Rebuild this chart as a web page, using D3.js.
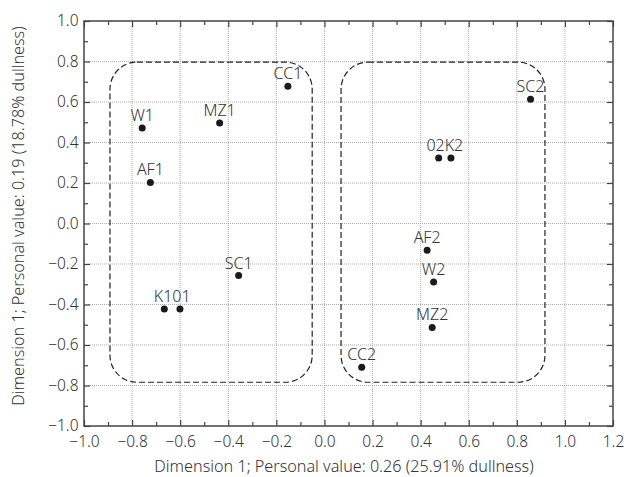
<!DOCTYPE html>
<html>
<head>
<meta charset="utf-8">
<script src="https://cdn.jsdelivr.net/npm/d3@7"></script>
<style>
  body { margin: 0; background: #fff; }
  text { font-family: "Noto Sans", sans-serif; font-weight: 300; fill: #333; }
</style>
</head>
<body>
<div id="chart"></div>
<script>
// Data
var pointNames = ["W1", "MZ1", "CC1", "AF1", "SC1", "K1", "O1", "SC2", "O2", "K2", "AF2", "W2", "MZ2", "CC2"];
var pointX = [-0.758, -0.436, -0.152, -0.724, -0.357, -0.666, -0.601, 0.857, 0.475, 0.526, 0.427, 0.454, 0.448, 0.155];
var pointY = [0.472, 0.496, 0.678, 0.203, -0.257, -0.422, -0.422, 0.613, 0.323, 0.323, -0.132, -0.289, -0.513, -0.710];

// points that share one label
var pairedLabels = [
  { members: ["K1", "O1"], text: "K101" },
  { members: ["O2", "K2"], text: "02K2" }
];

// dashed cluster outlines (data units)
var clusterX0 = [-0.892, 0.069];
var clusterX1 = [-0.051, 0.917];
var clusterY0 = [-0.784, -0.784];
var clusterY1 = [0.797, 0.797];

var xTicks = [-1.0, -0.8, -0.6, -0.4, -0.2, 0.0, 0.2, 0.4, 0.6, 0.8, 1.0, 1.2];
var yTicks = [-1.0, -0.8, -0.6, -0.4, -0.2, 0.0, 0.2, 0.4, 0.6, 0.8, 1.0];
var xMinor = [-0.9, -0.7, -0.5, -0.3, -0.1, 0.1, 0.3, 0.5, 0.7, 0.9, 1.1];
var yMinor = [-0.9, -0.7, -0.5, -0.3, -0.1, 0.1, 0.3, 0.5, 0.7, 0.9];

var xTitle = "Dimension 1; Personal value: 0.26 (25.91% dullness)";
var yTitle = "Dimension 1; Personal value: 0.19 (18.78% dullness)";

// SVG area
var svgWidth = 624;
var svgHeight = 477;
var margin = { top: 21, right: 11, bottom: 51, left: 84 };
var width = svgWidth - margin.left - margin.right;
var height = svgHeight - margin.top - margin.bottom;

var svg = d3.select("#chart")
  .append("svg")
  .attr("width", svgWidth)
  .attr("height", svgHeight);

var chartGroup = svg.append("g")
  .attr("transform", `translate(${margin.left}, ${margin.top})`);

var x = d3.scaleLinear().domain([-1.0, 1.2]).range([0, width]);
var y = d3.scaleLinear().domain([-1.0, 1.0]).range([height, 0]);

var fmt = d3.format(".1f");
var axisColor = "#444";

// grid
chartGroup.append("g").selectAll("line")
  .data(xTicks.slice(1, -1))
  .enter().append("line")
  .attr("x1", d => x(d)).attr("x2", d => x(d))
  .attr("y1", 0).attr("y2", height)
  .attr("stroke", "#999").attr("stroke-width", 0.8)
  .attr("stroke-dasharray", "1,1");

chartGroup.append("g").selectAll("line")
  .data(yTicks.slice(1, -1))
  .enter().append("line")
  .attr("y1", d => y(d)).attr("y2", d => y(d))
  .attr("x1", 0).attr("x2", width)
  .attr("stroke", "#999").attr("stroke-width", 0.8)
  .attr("stroke-dasharray", "1,1");

// axes: ticks point inward on all four sides
function styleAxis(g) {
  g.select(".domain").remove();
  g.selectAll(".tick line").attr("stroke", axisColor).attr("stroke-width", 1.2);
  g.selectAll(".tick text").attr("font-size", 15.5).attr("fill", "#333");
}

chartGroup.append("g")
  .attr("transform", `translate(0, ${height})`)
  .call(d3.axisBottom(x).tickValues(xTicks).tickFormat(fmt).tickSizeInner(-6).tickSizeOuter(0).tickPadding(10))
  .call(styleAxis);

chartGroup.append("g")
  .attr("transform", `translate(0, ${height})`)
  .call(d3.axisBottom(x).tickValues(xMinor).tickFormat("").tickSizeInner(-4).tickSizeOuter(0))
  .call(styleAxis);

chartGroup.append("g")
  .call(d3.axisTop(x).tickValues(xTicks).tickFormat("").tickSizeInner(-6).tickSizeOuter(0))
  .call(styleAxis);

chartGroup.append("g")
  .call(d3.axisTop(x).tickValues(xMinor).tickFormat("").tickSizeInner(-4).tickSizeOuter(0))
  .call(styleAxis);

chartGroup.append("g")
  .call(d3.axisLeft(y).tickValues(yTicks).tickFormat(fmt).tickSizeInner(-6).tickSizeOuter(0).tickPadding(5.5))
  .call(styleAxis);

chartGroup.append("g")
  .call(d3.axisLeft(y).tickValues(yMinor).tickFormat("").tickSizeInner(-4).tickSizeOuter(0))
  .call(styleAxis);

chartGroup.append("g")
  .attr("transform", `translate(${width}, 0)`)
  .call(d3.axisRight(y).tickValues(yTicks).tickFormat("").tickSizeInner(-6).tickSizeOuter(0))
  .call(styleAxis);

chartGroup.append("g")
  .attr("transform", `translate(${width}, 0)`)
  .call(d3.axisRight(y).tickValues(yMinor).tickFormat("").tickSizeInner(-4).tickSizeOuter(0))
  .call(styleAxis);

// frame
chartGroup.append("rect")
  .attr("x", 0).attr("y", 0)
  .attr("width", width).attr("height", height)
  .attr("fill", "none")
  .attr("stroke", axisColor)
  .attr("stroke-width", 1.5);

// cluster outlines
chartGroup.append("g").selectAll("rect")
  .data(clusterX0)
  .enter().append("rect")
  .attr("x", (d, i) => x(clusterX0[i]))
  .attr("y", (d, i) => y(clusterY1[i]))
  .attr("width", (d, i) => x(clusterX1[i]) - x(clusterX0[i]))
  .attr("height", (d, i) => y(clusterY0[i]) - y(clusterY1[i]))
  .attr("rx", 27).attr("ry", 27)
  .attr("fill", "none")
  .attr("stroke", "#222")
  .attr("stroke-width", 1.2)
  .attr("stroke-dasharray", "6,3");

// points
var points = pointNames.map((n, i) => ({ name: n, x: pointX[i], y: pointY[i] }));

chartGroup.append("g").selectAll("circle")
  .data(points)
  .enter().append("circle")
  .attr("cx", d => x(d.x))
  .attr("cy", d => y(d.y))
  .attr("r", 3.5)
  .attr("fill", "#1a1a1a");

// labels: single points get their own, pairs share one centred label
var paired = new Set();
var labels = [];
pairedLabels.forEach(function(p) {
  var members = points.filter(d => p.members.includes(d.name));
  members.forEach(d => paired.add(d.name));
  labels.push({ text: p.text, x: d3.mean(members, d => d.x), y: d3.mean(members, d => d.y) });
});
points.forEach(function(d) {
  if (!paired.has(d.name)) labels.push({ text: d.name, x: d.x, y: d.y });
});

chartGroup.append("g").selectAll("text")
  .data(labels)
  .enter().append("text")
  .attr("x", d => x(d.x))
  .attr("y", d => y(d.y) - 7)
  .attr("text-anchor", "middle")
  .attr("font-size", 16)
  .text(d => d.text);

// axis titles
svg.append("text")
  .attr("x", 344)
  .attr("y", 472)
  .attr("text-anchor", "middle")
  .attr("font-size", 16.2)
  .text(xTitle);

svg.append("text")
  .attr("transform", "translate(24, 216) rotate(-90)")
  .attr("text-anchor", "middle")
  .attr("font-size", 16.2)
  .text(yTitle);
</script>
</body>
</html>
